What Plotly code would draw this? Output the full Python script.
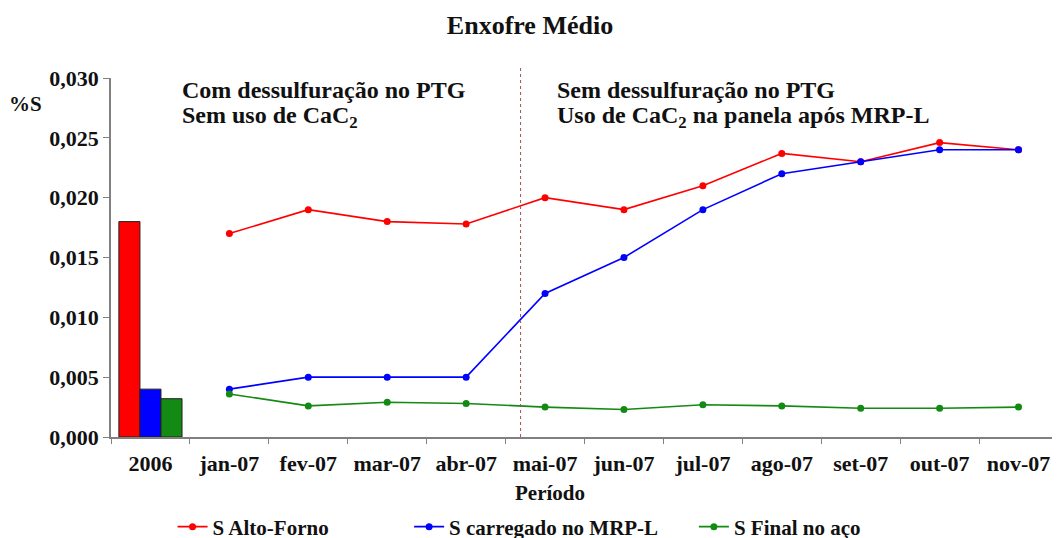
import plotly.graph_objects as go

categories = ["2006", "jan-07", "fev-07", "mar-07", "abr-07", "mai-07", "jun-07",
              "jul-07", "ago-07", "set-07", "out-07", "nov-07"]
months = categories[1:]

bar_2006 = {"S Alto-Forno": 0.0180, "S carregado no MRP-L": 0.0040, "S Final no aço": 0.0032}

s_alto_forno = [0.0170, 0.0190, 0.0180, 0.0178, 0.0200, 0.0190, 0.0210, 0.0237, 0.0230, 0.0246, 0.0240]
s_carregado = [0.0040, 0.0050, 0.0050, 0.0050, 0.0120, 0.0150, 0.0190, 0.0220, 0.0230, 0.0240, 0.0240]
s_final = [0.0036, 0.0026, 0.0029, 0.0028, 0.0025, 0.0023, 0.0027, 0.0026, 0.0024, 0.0024, 0.0025]

y_ticks = [0, 0.005, 0.010, 0.015, 0.020, 0.025, 0.030]

colors = {"S Alto-Forno": "#FF0000", "S carregado no MRP-L": "#0000FF", "S Final no aço": "#138A13"}
series = {"S Alto-Forno": s_alto_forno, "S carregado no MRP-L": s_carregado, "S Final no aço": s_final}

FONT = "Liberation Serif"
INK = "#111111"

fig = go.Figure()

for name, val in bar_2006.items():
    fig.add_trace(go.Bar(x=["2006"], y=[val], name=name, showlegend=False,
                         marker=dict(color=colors[name], line=dict(color="#202020", width=1))))

legends = ["legend", "legend2", "legend3"]
for (name, vals), lg in zip(series.items(), legends):
    fig.add_trace(go.Scatter(x=months, y=vals, name=f"<b>{name}</b>", mode="lines+markers",
                             line=dict(color=colors[name], width=1.6),
                             marker=dict(color=colors[name], size=7),
                             legend=lg))

legend_common = dict(orientation="h", y=-0.2507, yanchor="middle", xanchor="left",
                     font=dict(family=FONT, size=21, color=INK),
                     bgcolor="rgba(0,0,0,0)")

# The page body adds an 8px offset, so the figure is 8px smaller in width and
# the margins are shifted accordingly.
fig.update_layout(
    template="none",
    width=1052, height=546,
    margin=dict(l=103, r=2, t=70, b=117),
    plot_bgcolor="white", paper_bgcolor="white",
    barmode="group", bargap=0.2, bargroupgap=0,
    title=dict(text="<b>Enxofre Médio</b>", x=0.5 - 4 / 1052, xanchor="center",
               y=1 - 17 / 546, yanchor="middle",
               font=dict(family=FONT, size=26, color=INK)),
    legend=dict(x=0.0650, **legend_common),
    legend2=dict(x=0.3148, **legend_common),
    legend3=dict(x=0.6155, **legend_common),
    xaxis=dict(type="category", categoryorder="array", categoryarray=categories,
               range=[-0.5, len(categories) - 0.5], automargin=False,
               tickvals=categories, ticktext=[f"<b>{c}</b>" for c in categories],
               showline=True, linecolor="#808080", linewidth=1.5,
               ticks="outside", tickson="boundaries", ticklen=5, tickcolor="#808080",
               ticklabelstandoff=6,
               showgrid=False, zeroline=False,
               tickfont=dict(family=FONT, size=22, color=INK)),
    yaxis=dict(range=[0, 0.030], automargin=False,
               tickvals=y_ticks,
               ticktext=[f"<b>{v:.3f}</b>".replace(".", ",") for v in y_ticks],
               showline=True, linecolor="#808080", linewidth=1.5,
               ticks="outside", ticklen=6, tickcolor="#808080",
               showgrid=False, zeroline=False,
               tickfont=dict(family=FONT, size=22, color=INK)),
)

fig.add_shape(type="line", xref="x", yref="paper", x0=4.69, x1=4.69, y0=0, y1=1.036,
              line=dict(color="#A05050", width=1, dash="dot"))

def note(text, x, y, size=24, anchor="left"):
    fig.add_annotation(text=text, xref="paper", yref="paper", x=x, y=y,
                       xanchor=anchor, yanchor="middle", align="left", showarrow=False,
                       font=dict(family=FONT, size=size, color=INK))

note("<b>%S</b>", -0.0908, 0.928, size=21, anchor="center")
note("<b>Período</b>", 0.4636, -0.156, size=21, anchor="center")
note("<b>Com dessulfuração no PTG</b>", 0.073, (437 - 90) / 359)
note("<b>Sem uso de CaC<sub>2</sub></b>", 0.073, (437 - 117) / 359)
note("<b>Sem dessulfuração no PTG</b>", 0.4688, (437 - 90) / 359)
note("<b>Uso de CaC<sub>2</sub> na panela após MRP-L</b>", 0.4688, (437 - 117) / 359)

fig.write_html("out.html")
